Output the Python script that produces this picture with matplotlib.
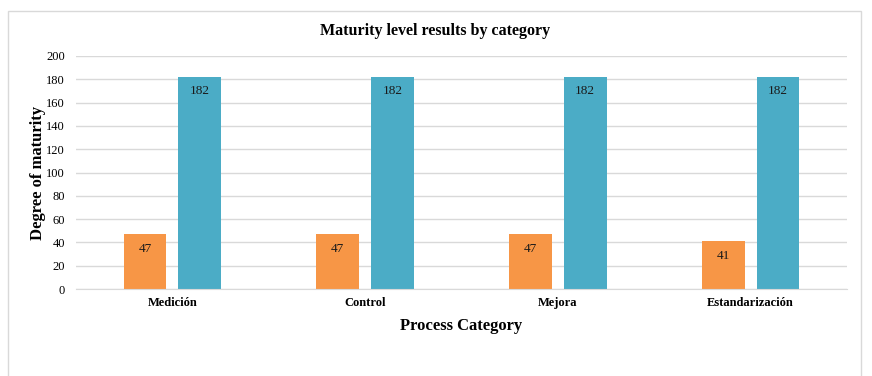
import matplotlib.pyplot as plt
import numpy as np
from matplotlib.patches import Rectangle

categories = ["Medición", "Control", "Mejora", "Estandarización"]
series_a = [47, 47, 47, 41]
series_b = [182, 182, 182, 182]
yticks = [0, 20, 40, 60, 80, 100, 120, 140, 160, 180, 200]

plt.rcParams["font.family"] = ["Liberation Serif", "DejaVu Serif"]

W, H = 872, 376
fig = plt.figure(figsize=(W / 100, H / 100), dpi=100)
ax = fig.add_axes([76 / W, 1 - 289 / H, (847 - 76) / W, (289 - 56) / H])

# outer chart border
fig.patches.append(Rectangle((8 / W, -0.01), (861 - 8) / W, 1 - 11 / H + 0.01,
                             transform=fig.transFigure, fill=False,
                             edgecolor="#d9d9d9", linewidth=1))

x = np.arange(len(categories))
bw = 0.223
bars_a = ax.bar(x - 0.142, series_a, bw, color="#F79646")
bars_b = ax.bar(x + 0.142, series_b, bw, color="#4BACC6")

for bars in (bars_a, bars_b):
    for b in bars:
        ax.annotate(f"{b.get_height():.0f}", xy=(b.get_x() + b.get_width() / 2, b.get_height()),
                    xytext=(0, -6), textcoords="offset points", ha="center", va="top",
                    fontsize=9.5, color="#1a1a1a")

ax.set_xlim(-0.5, len(categories) - 0.5)
ax.set_ylim(0, 200)
ax.set_yticks(yticks)
ax.set_xticks(x)
ax.set_xticklabels(categories, fontweight="bold", fontsize=9)
ax.tick_params(axis="y", labelsize=9, length=0, pad=8)
ax.tick_params(axis="x", length=0, pad=6)
ax.yaxis.grid(True, color="#d9d9d9", linewidth=1)
ax.set_axisbelow(True)
for s in ["top", "right", "left"]:
    ax.spines[s].set_visible(False)
ax.spines["bottom"].set_color("#d9d9d9")

ax.set_ylabel("Degree of maturity", fontsize=12, fontweight="bold", labelpad=0)
ax.set_xlabel("Process Category", fontsize=12, fontweight="bold", labelpad=6)
fig.text(435 / W, 1 - 31 / H, "Maturity level results by category", ha="center", va="center",
         fontsize=11.5, fontweight="bold")

fig.savefig("out.png", dpi=100)
